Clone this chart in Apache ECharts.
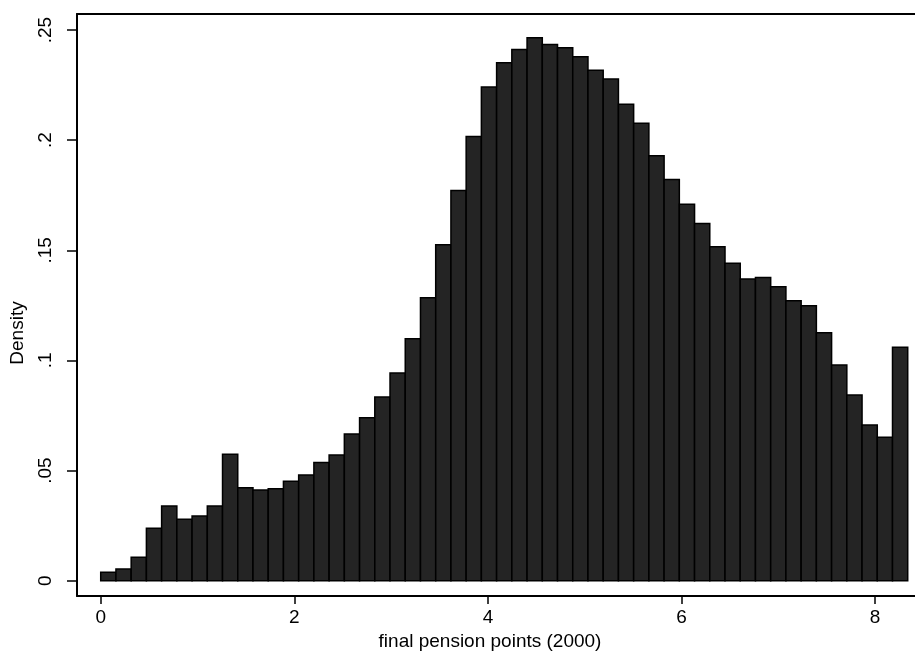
<!DOCTYPE html>
<html>
<head>
<meta charset="utf-8">
<script src="https://cdn.jsdelivr.net/npm/echarts@6/dist/echarts.min.js"></script>
<style>html,body{margin:0;padding:0;background:#fff;overflow:hidden}#c{width:915px;height:657px}</style>
</head>
<body>
<div id="c"></div>
<script>
// Histogram: final pension points (2000), 53 bins
const binStart = 0;
const binWidth = 0.1573;
const density = [
  0.0038, 0.0053, 0.0106, 0.0238, 0.0339, 0.0279, 0.0294, 0.0339, 0.0574, 0.0422,
  0.0412, 0.0418, 0.0451, 0.0480, 0.0537, 0.0571, 0.0666, 0.0740, 0.0834, 0.0943,
  0.1099, 0.1285, 0.1525, 0.1772, 0.2017, 0.2241, 0.2352, 0.2412, 0.2465, 0.2435,
  0.2420, 0.2379, 0.2318, 0.2278, 0.2163, 0.2077, 0.1929, 0.1822, 0.1709, 0.1622,
  0.1516, 0.1441, 0.1370, 0.1377, 0.1335, 0.1271, 0.1248, 0.1126, 0.0979, 0.0843,
  0.0707, 0.0651, 0.1060
];
const xTickValues = [0, 2, 4, 6, 8];
const xTickLabels = ['0', '2', '4', '6', '8'];
const yTickValues = [0, 0.05, 0.1, 0.15, 0.2, 0.25];
const yTickLabels = ['0', '.05', '.1', '.15', '.2', '.25'];
const xTitle = 'final pension points (2000)';
const yTitle = 'Density';

function lookup(vals, labels, v) {
  let best = 0, bd = Infinity;
  vals.forEach((t, i) => { const d = Math.abs(t - v); if (d < bd) { bd = d; best = i; } });
  return labels[best];
}

const data = density.map((d, i) => [binStart + i * binWidth, binStart + (i + 1) * binWidth, d]);
const FONT = 'Liberation Sans, Arial, Helvetica, sans-serif';
const XMIN = -0.245, XMAX = 8.412;

const chart = echarts.init(document.getElementById('c'), null, { renderer: 'canvas' });
chart.setOption({
  animation: false,
  backgroundColor: '#fff',
  grid: { left: 77, right: 0, top: 14, bottom: 61, show: false },
  xAxis: [{
    type: 'value', min: XMIN, max: XMAX,
    splitLine: { show: false },
    axisLine: { show: true, onZero: false, lineStyle: { color: '#000', width: 2 } },
    axisTick: { show: true, length: 8, lineStyle: { color: '#000', width: 1.5 }, customValues: xTickValues },
    axisLabel: { color: '#000', fontSize: 19, fontFamily: FONT, margin: 12, customValues: xTickValues,
      formatter: v => lookup(xTickValues, xTickLabels, v) },
    name: xTitle, nameLocation: 'middle', nameGap: 36,
    nameTextStyle: { color: '#000', fontSize: 19, fontFamily: FONT, padding: [0, 12, 0, 0] }
  }, {
    type: 'value', position: 'top', min: XMIN, max: XMAX,
    splitLine: { show: false },
    axisLine: { show: true, onZero: false, lineStyle: { color: '#000', width: 2 } },
    axisTick: { show: false }, axisLabel: { show: false }
  }],
  yAxis: {
    type: 'value', min: -0.00695, max: 0.2573,
    splitLine: { show: false },
    axisLine: { show: true, onZero: false, lineStyle: { color: '#000', width: 2 } },
    axisTick: { show: true, length: 10, lineStyle: { color: '#000', width: 1.5 }, customValues: yTickValues },
    axisLabel: { color: '#000', fontSize: 19, fontFamily: FONT, margin: 22, rotate: 90, customValues: yTickValues,
      formatter: v => lookup(yTickValues, yTickLabels, v) },
    name: yTitle, nameLocation: 'middle', nameGap: 50, nameRotate: 90,
    nameTextStyle: { color: '#000', fontSize: 19, fontFamily: FONT, padding: [0, 56, 0, 0] }
  },
  series: [{
    type: 'custom',
    xAxisIndex: 0,
    data: data,
    encode: { x: [0, 1], y: 2 },
    clip: true,
    renderItem: function (params, api) {
      const p0 = api.coord([api.value(0), api.value(2)]);
      const p1 = api.coord([api.value(1), 0]);
      return {
        type: 'rect',
        shape: { x: p0[0], y: p0[1], width: p1[0] - p0[0], height: p1[1] - p0[1] },
        style: { fill: '#242424', stroke: '#000', lineWidth: 1.5 }
      };
    }
  }]
});
</script>
</body>
</html>
